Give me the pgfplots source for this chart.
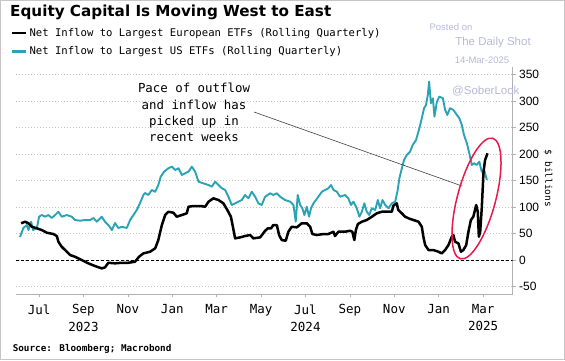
\documentclass[border=0pt]{standalone}
\usepackage{pgfplots}
\pgfplotsset{compat=1.18}
\usepackage{fontspec}
\setmainfont{DejaVu Sans Mono}
\newfontfamily\titlefont{DejaVu Sans}
\newfontfamily\numfont{Liberation Sans}
\definecolor{usc}{HTML}{2AA3B5}
\definecolor{wm}{HTML}{B8B8D8}
\definecolor{ell}{HTML}{E8194B}
\begin{document}
\begin{tikzpicture}[x=1bp,y=1bp]
\path[use as bounding box] (0,0) rectangle (565,360);
\draw[gray!45, line width=1bp] (0.5,0.5) rectangle (564.5,359.5);
\node[anchor=base west, inner sep=0, font=\titlefont\bfseries\fontsize{15.2bp}{17bp}\selectfont] at (10,343.5) {Equity Capital Is Moving West to East};
\node[wm, inner sep=0, font=\numfont\fontsize{9.5bp}{11bp}\selectfont] at (451,333.3) {Posted on};
\node[wm, inner sep=0, font=\numfont\fontsize{11.5bp}{13bp}\selectfont] at (493,317.3) {The Daily Shot};
\node[wm, inner sep=0, font=\numfont\fontsize{9.5bp}{11bp}\selectfont] at (482,299.7) {14-Mar-2025};
\begin{axis}[
  at={(16bp,66bp)}, anchor=south west,
  width=496.6bp, height=227bp, scale only axis,
  xmin=-1.04, xmax=21.33, ymin=-64, ymax=364,
  axis x line*=bottom, axis y line*=right,
  axis line style={gray!60, line width=0.8bp},
  tick style={gray!60, line width=0.6bp},
  tick align=outside, major tick length=3bp,
  xtick={0,2,...,20},
  xticklabels={Jul,{Sep\\2023},Nov,Jan,Mar,May,{Jul\\2024},Sep,Nov,Jan,{Mar\\2025}},
  xticklabel style={align=center, font=\fontsize{12.5bp}{17.3bp}\selectfont, text=black, yshift=-4bp},
  ytick={-50,0,...,350},
  /pgf/number format/assume math mode=true,
  yticklabel style={font=\numfont\fontsize{12bp}{14bp}\selectfont, anchor=west, text=black},
  ymajorgrids, major grid style={gray!45, dash pattern=on 1bp off 2bp, line width=0.6bp},
  legend style={at={(axis description cs:-0.0101,1.181)}, anchor=north west, draw=none, fill=none, inner sep=0pt, font=\fontsize{10.6bp}{13bp}\selectfont, row sep=5bp},
  legend cell align=left,
  legend image code/.code={\draw[#1] (0bp,0bp) -- (14bp,0bp);},
]
\addlegendimage{black, line width=2.4bp}
\addlegendentry{Net Inflow to Largest European ETFs (Rolling Quarterly)}
\addlegendimage{usc, line width=2.4bp}
\addlegendentry{Net Inflow to Largest US ETFs (Rolling Quarterly)}
\addplot[black, dash pattern=on 3bp off 2bp, line width=0.8bp, forget plot] coordinates {(-1.04,0) (21.33,0)};
\addplot[usc, line width=1.9bp, line join=round, forget plot] coordinates {
(-0.86,43.4) (-0.71,60.4) (-0.55,66.0) (-0.48,56.6) (-0.36,72.3) (-0.27,56.6) (-0.10,60.4)
(0.00,81.7) (0.12,84.9) (0.27,81.7) (0.42,84.9) (0.57,79.3) (0.72,84.9) (0.87,91.1)
(1.02,81.7) (1.25,84.9) (1.47,81.7) (1.62,75.5) (1.85,74.2) (2.07,75.5) (2.30,75.5)
(2.45,79.3) (2.60,72.3) (2.82,81.7) (2.97,72.3) (3.12,66.0) (3.28,56.6) (3.42,69.8)
(3.57,60.4) (3.73,62.8) (3.95,60.4) (4.10,75.5) (4.25,84.9) (4.40,94.4) (4.55,107.6)
(4.70,122.7) (4.77,126.4) (4.92,122.7) (5.08,132.1) (5.23,128.9) (5.37,141.5) (5.48,157.2)
(5.63,166.6) (5.82,173.0) (5.98,176.1) (6.13,169.8) (6.28,173.0) (6.43,160.4) (6.58,163.6)
(6.73,166.6) (6.88,176.1) (7.03,166.6) (7.18,147.8) (7.40,144.7) (7.63,141.5) (7.78,138.3)
(7.93,147.8) (8.08,141.5) (8.23,135.3) (8.38,132.1) (8.53,119.4) (8.68,103.8) (8.83,107.0)
(8.98,110.0) (9.13,113.2) (9.28,122.7) (9.43,116.4) (9.58,128.9) (9.73,119.4) (9.88,107.0)
(10.03,103.8) (10.18,119.4) (10.41,125.9) (10.55,122.7) (10.71,125.9) (10.86,119.4) (11.08,113.2)
(11.31,110.0) (11.46,103.8) (11.56,72.3) (11.65,122.7) (11.76,103.8) (11.86,97.6) (11.95,84.9)
(12.06,100.6) (12.16,81.7) (12.25,97.6) (12.36,107.0) (12.47,113.2) (12.58,119.4) (12.74,128.9)
(12.88,132.1) (13.03,135.3) (13.15,141.5) (13.26,132.1) (13.41,128.9) (13.56,119.4) (13.78,122.7)
(13.93,116.4) (14.05,103.8) (14.16,110.0) (14.31,97.6) (14.43,81.7) (14.54,91.1) (14.65,107.0)
(14.76,91.1) (14.87,84.9) (14.99,97.6) (15.14,94.4) (15.26,113.2) (15.36,97.6) (15.47,113.2)
(15.59,103.8) (15.74,97.6) (15.89,107.0) (16.04,110.0) (16.14,128.9) (16.23,154.2) (16.34,173.0)
(16.44,188.7) (16.56,198.1) (16.71,204.4) (16.83,217.0) (16.98,226.4) (17.13,248.5) (17.24,267.4)
(17.34,286.3) (17.43,292.5) (17.51,311.4) (17.57,336.5) (17.65,295.7) (17.74,305.1) (17.81,270.4)
(17.92,298.7) (18.03,308.2) (18.19,305.1) (18.29,283.1) (18.39,273.6) (18.51,286.3) (18.66,283.1)
(18.82,273.6) (18.93,267.4) (19.04,254.7) (19.14,235.9) (19.27,220.2) (19.38,201.3) (19.49,179.3)
(19.59,182.5) (19.71,179.3) (19.83,185.5) (19.94,166.6) (20.05,169.8) (20.17,151.0)
};
\addplot[black, line width=2.5bp, line join=round, forget plot] coordinates {
(-0.81,69.3) (-0.63,72.3) (-0.48,69.3) (-0.33,62.8) (-0.10,59.8) (0.12,56.6) (0.35,51.5)
(0.64,49.1) (0.80,45.3) (0.87,34.5) (1.02,25.1) (1.17,18.9) (1.40,9.4) (1.62,6.2)
(1.92,0.0) (2.22,-6.2) (2.52,-11.3) (2.82,-15.7) (2.97,-13.8) (3.12,-5.1) (3.42,-6.2)
(3.73,-5.1) (4.02,-5.1) (4.32,-3.2) (4.50,6.2) (4.70,12.6) (5.00,15.7) (5.23,22.1)
(5.37,37.7) (5.53,66.0) (5.68,84.9) (5.82,91.1) (6.05,89.3) (6.20,81.7) (6.43,84.9)
(6.65,88.1) (6.73,100.6) (6.95,101.9) (7.25,101.9) (7.48,100.6) (7.63,110.0) (7.85,116.4)
(8.08,113.2) (8.30,107.0) (8.48,94.4) (8.64,81.7) (8.73,62.8) (8.83,40.9) (9.06,42.8)
(9.28,45.3) (9.51,47.2) (9.65,40.9) (9.96,42.8) (10.18,55.0) (10.30,59.8) (10.45,59.8)
(10.55,66.0) (10.71,66.0) (10.81,47.2) (10.93,37.7) (11.11,36.4) (11.23,53.4) (11.38,62.8)
(11.61,61.7) (11.83,69.3) (12.06,69.3) (12.21,62.8) (12.31,49.1) (12.51,47.2) (12.81,49.1)
(13.03,49.1) (13.26,53.4) (13.33,45.3) (13.48,53.4) (13.78,53.4) (14.01,55.3) (14.11,53.4)
(14.20,37.7) (14.27,56.6) (14.36,67.9) (14.54,72.3) (14.76,75.5) (14.99,81.7) (15.21,88.1)
(15.44,91.1) (15.66,91.1) (15.89,91.1) (15.96,102.5) (16.11,107.0) (16.18,94.4) (16.34,88.1)
(16.49,81.7) (16.64,78.7) (16.86,75.5) (17.09,72.3) (17.24,62.8) (17.31,44.0) (17.39,28.3)
(17.54,18.9) (17.76,18.9) (17.99,15.7) (18.14,12.6) (18.29,18.9) (18.44,28.3) (18.59,44.0)
(18.66,47.2) (18.74,34.5) (18.89,31.5) (19.00,15.7) (19.11,18.9) (19.24,28.3) (19.34,53.4)
(19.45,75.5) (19.56,81.7) (19.69,103.8) (19.76,91.1) (19.81,44.0) (19.87,53.4) (19.94,97.6)
(20.02,166.6) (20.09,188.7) (20.20,201.3)
};
\end{axis}
\node[wm, anchor=west, inner sep=0, font=\numfont\fontsize{11.5bp}{13bp}\selectfont] at (452,269) {@SoberLook};
\node[rotate=-90, inner sep=0, font=\fontsize{9.5bp}{11bp}\selectfont] at (548,181.5) {\$ billions};
\draw[black!75, line width=0.6bp] (254,248) -- (462,174);
\node[align=center, inner sep=0, font=\fontsize{12.4bp}{16.3bp}\selectfont] at (194,247.5) {Pace of outflow\\and inflow has\\picked up in\\recent weeks};
\draw[ell, line width=1.5bp, rotate around={75:(476.5,161.5)}] (476.5,161.5) ellipse [x radius=62.4, y radius=19.1];
\node[anchor=west, inner sep=0, font=\bfseries\fontsize{9.3bp}{11bp}\selectfont] at (12.6,11) {Source: Bloomberg; Macrobond};
\end{tikzpicture}
\end{document}
